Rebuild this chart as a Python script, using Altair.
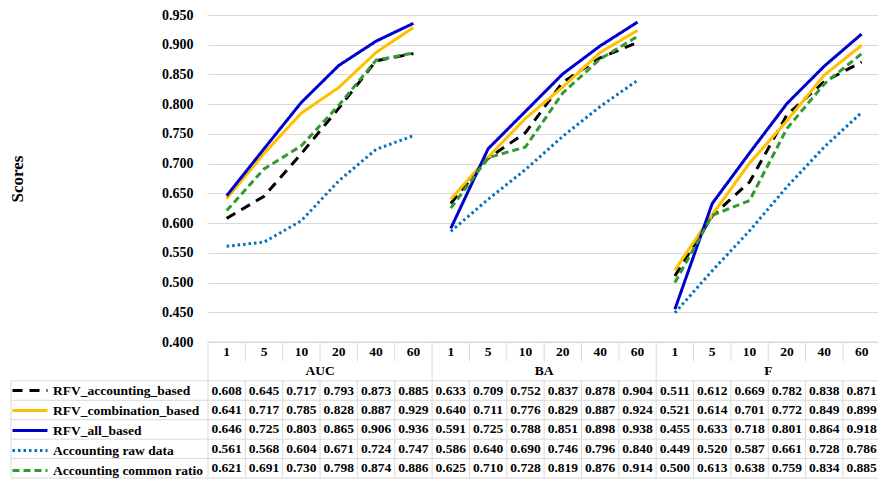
import altair as alt
import pandas as pd

# ---------------- data ----------------
categories = ["1", "5", "10", "20", "40", "60"]
groups = ["AUC", "BA", "F"]
series = [
    "RFV_accounting_based",
    "RFV_combination_based",
    "RFV_all_based",
    "Accounting raw data",
    "Accounting common ratio",
]

# values per series: AUC (6), BA (6), F (6)
rfv_accounting_based = [0.608, 0.645, 0.717, 0.793, 0.873, 0.885,
                        0.633, 0.709, 0.752, 0.837, 0.878, 0.904,
                        0.511, 0.612, 0.669, 0.782, 0.838, 0.871]
rfv_combination_based = [0.641, 0.717, 0.785, 0.828, 0.887, 0.929,
                         0.640, 0.711, 0.776, 0.829, 0.887, 0.924,
                         0.521, 0.614, 0.701, 0.772, 0.849, 0.899]
rfv_all_based = [0.646, 0.725, 0.803, 0.865, 0.906, 0.936,
                 0.591, 0.725, 0.788, 0.851, 0.898, 0.938,
                 0.455, 0.633, 0.718, 0.801, 0.864, 0.918]
accounting_raw_data = [0.561, 0.568, 0.604, 0.671, 0.724, 0.747,
                       0.586, 0.640, 0.690, 0.746, 0.796, 0.840,
                       0.449, 0.520, 0.587, 0.661, 0.728, 0.786]
accounting_common_ratio = [0.621, 0.691, 0.730, 0.798, 0.874, 0.886,
                           0.625, 0.710, 0.728, 0.819, 0.876, 0.914,
                           0.500, 0.613, 0.638, 0.759, 0.834, 0.885]

y_ticks = [0.40, 0.45, 0.50, 0.55, 0.60, 0.65, 0.70, 0.75, 0.80, 0.85, 0.90, 0.95]

all_values = [rfv_accounting_based, rfv_combination_based, rfv_all_based,
              accounting_raw_data, accounting_common_ratio]

# ---------------- styles ----------------
colors = ["#000000", "#FFC000", "#0000CC", "#0070C0", "#339933"]
dashes = [[10, 7], [1, 0], [1, 0], [2.5, 3], [7, 4]]
FONT = "Liberation Serif"
GRID = "#d9d9d9"

COL = 37.35           # pixel width of one table column
LEG_W = 197           # legend column width
TAB_W = 670           # visible width of the value columns
TOP_H = 327
N_ROWS = 7
TAB_H = 136
ROW_H = TAB_H / N_ROWS

x_lo = -0.5
x_hi = -0.5 + TAB_W / COL
x_min = -0.5 - LEG_W / COL

# ---------------- tables ----------------
n_cat = len(categories)
recs = []
for si, s in enumerate(series):
    for gi, g in enumerate(groups):
        for ci, c in enumerate(categories):
            idx = gi * n_cat + ci
            v = all_values[si][idx]
            recs.append({"series": s, "group": g, "cat": c, "idx": idx,
                         "value": v, "label": f"{v:.3f}", "row": 2.5 + si})
long = pd.DataFrame(recs)

hdr = pd.DataFrame([{"idx": gi * n_cat + ci, "label": c, "row": 0.5}
                    for gi in range(len(groups)) for ci, c in enumerate(categories)])
grp = pd.DataFrame([{"idx": gi * n_cat + (n_cat - 1) / 2, "label": g, "row": 1.5}
                    for gi, g in enumerate(groups)])

rules = []
n_total = n_cat * len(groups)
x_end = min(n_total - 0.5, x_hi)
# horizontal borders
rules.append({"x": -0.5, "x2": x_end, "y": 0, "y2": 0})
for r in range(2, N_ROWS + 1):
    rules.append({"x": x_min, "x2": x_end, "y": r, "y2": r})
# vertical borders
rules.append({"x": x_min, "x2": x_min, "y": 2, "y2": N_ROWS})
for k in range(0, n_total + 1):
    xb = k - 0.5
    if xb > x_hi:
        continue
    if k % n_cat == 0:
        rules.append({"x": xb, "x2": xb, "y": 0, "y2": N_ROWS})
    else:
        rules.append({"x": xb, "x2": xb, "y": 0, "y2": 1})
        rules.append({"x": xb, "x2": xb, "y": 2, "y2": N_ROWS})
rules = pd.DataFrame(rules)

# ---------------- top: lines ----------------
legend = alt.Legend(
    orient="none", legendX=-LEG_W, legendY=TOP_H + 2 * ROW_H,
    title=None, symbolType="stroke", symbolSize=1225, symbolStrokeWidth=3,
    labelFont=FONT, labelFontWeight="bold", labelFontSize=13.5,
    labelColor="black", clipHeight=ROW_H, rowPadding=0, padding=0,
    labelOffset=4, labelLimit=400,
)

xs = alt.Scale(domain=[x_lo, x_hi], nice=False, zero=False)

lines = alt.Chart(long).mark_line(strokeWidth=3).encode(
    x=alt.X("idx:Q", scale=xs, axis=None),
    y=alt.Y("value:Q", scale=alt.Scale(domain=[0.4, 0.95], nice=False, zero=False),
            axis=alt.Axis(values=y_ticks, format=".3f", title="Scores",
                          grid=True, gridColor=GRID, gridWidth=1,
                          domain=False, ticks=False, labelPadding=15,
                          labelFont=FONT, labelFontWeight="bold",
                          labelFontSize=14, labelColor="black",
                          titleFont=FONT, titleFontWeight="bold",
                          titleFontSize=17, titleColor="black",
                          titlePadding=135)),
    color=alt.Color("series:N", scale=alt.Scale(domain=series, range=colors),
                    legend=legend),
    strokeDash=alt.StrokeDash("series:N", scale=alt.Scale(domain=series, range=dashes),
                              legend=legend),
    detail="group:N",
    order=alt.Order("idx:Q"),
).properties(width=TAB_W, height=TOP_H)

# ---------------- bottom: data table ----------------
ys = alt.Scale(domain=[0, N_ROWS], nice=False, zero=False, reverse=True)

txt = dict(font=FONT, fontWeight="bold", fontSize=13.5, color="black",
           baseline="middle", align="center", clip=True)

borders = alt.Chart(rules).mark_rule(color=GRID, strokeWidth=1).encode(
    x=alt.X("x:Q", scale=xs, axis=None), x2="x2:Q",
    y=alt.Y("y:Q", scale=ys, axis=None), y2="y2:Q",
)
hdr_t = alt.Chart(hdr).mark_text(**txt).encode(
    x=alt.X("idx:Q", scale=xs, axis=None),
    y=alt.Y("row:Q", scale=ys, axis=None), text="label:N")
grp_t = alt.Chart(grp).mark_text(**txt).encode(
    x=alt.X("idx:Q", scale=xs, axis=None),
    y=alt.Y("row:Q", scale=ys, axis=None), text="label:N")
val_t = alt.Chart(long).mark_text(**txt).encode(
    x=alt.X("idx:Q", scale=xs, axis=None),
    y=alt.Y("row:Q", scale=ys, axis=None), text="label:N")

table = alt.layer(borders, hdr_t, grp_t, val_t).properties(
    width=TAB_W, height=TAB_H)

chart = alt.vconcat(lines, table, spacing=0, bounds="flush").properties(
    padding={"left": 0, "top": 0, "right": 0, "bottom": 0}
).configure_view(stroke=None)

chart.save("out.html", embed_options={"renderer": "svg", "actions": False})
